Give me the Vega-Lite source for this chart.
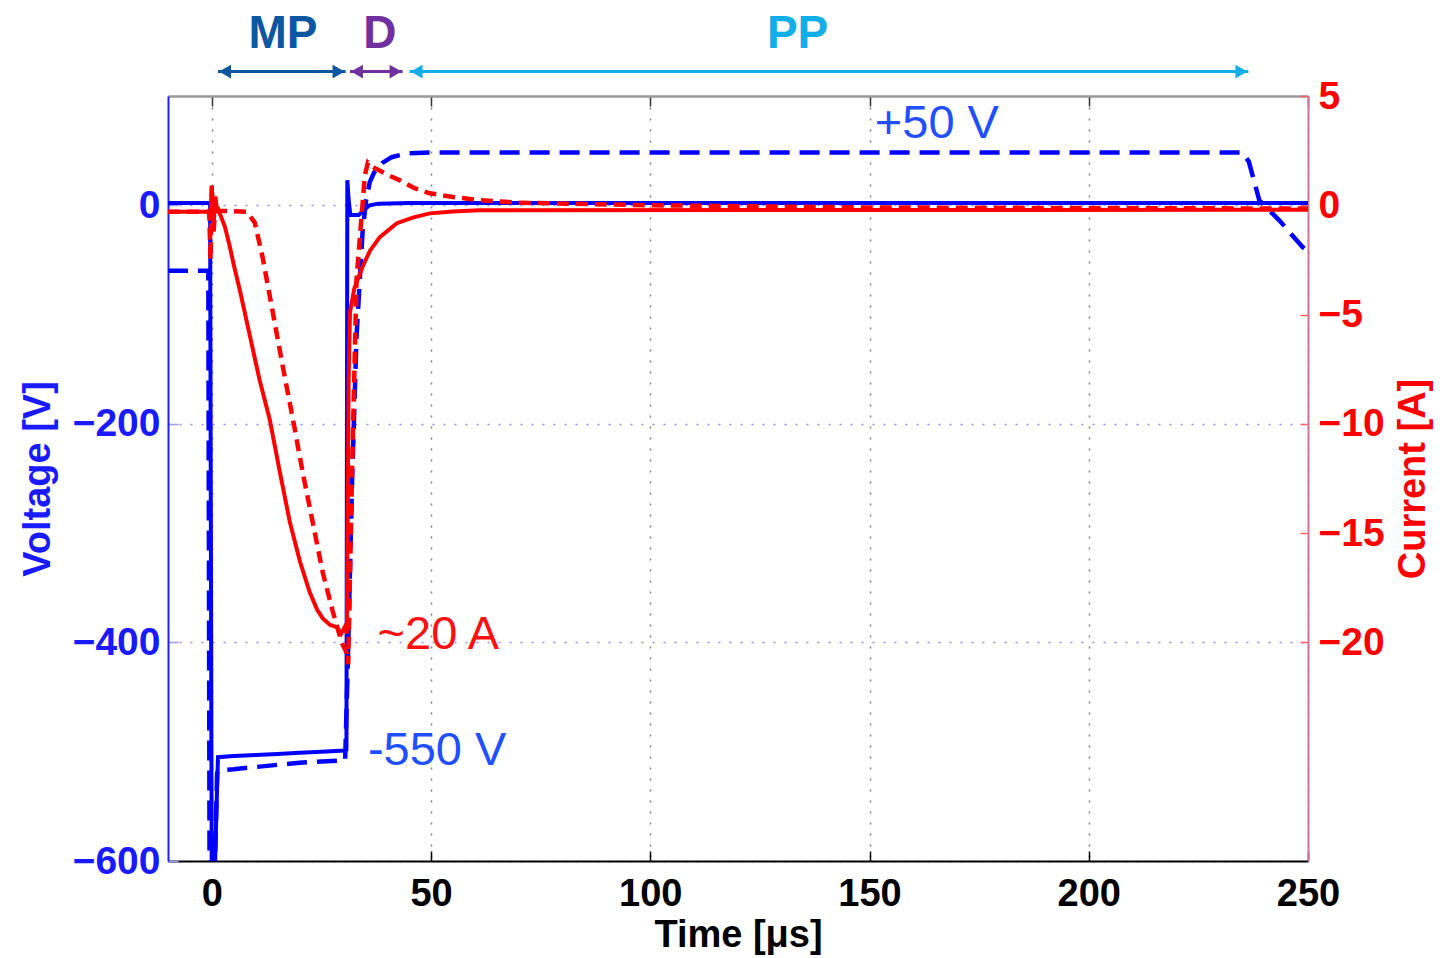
{
  "$schema": "https://vega.github.io/schema/vega-lite/v6.json",
  "width": 1140,
  "height": 765,
  "autosize": {"type": "none"},
  "padding": {"left": 168, "top": 96, "right": 144, "bottom": 97},
  "background": "white",
  "config": {"view": {"stroke": null}, "font": "Liberation Sans"},
  "datasets": {
    "volt": [
      {"s": "VS", "t": -10, "val": 2}, {"s": "VS", "t": -0.4, "val": 2}, {"s": "VS", "t": 0, "val": -660}, {"s": "VS", "t": 0.5, "val": -640}, {"s": "VS", "t": 1.0, "val": -560}, {"s": "VS", "t": 1.4, "val": -505}, {"s": "VS", "t": 5, "val": -504}, {"s": "VS", "t": 10, "val": -503}, {"s": "VS", "t": 15, "val": -502}, {"s": "VS", "t": 20, "val": -501}, {"s": "VS", "t": 25, "val": -500}, {"s": "VS", "t": 30.3, "val": -499}, {"s": "VS", "t": 30.7, "val": -498}, {"s": "VS", "t": 30.9, "val": 23}, {"s": "VS", "t": 31.2, "val": 5}, {"s": "VS", "t": 31.6, "val": -9}, {"s": "VS", "t": 33.5, "val": -9}, {"s": "VS", "t": 34.5, "val": -5}, {"s": "VS", "t": 36, "val": 0}, {"s": "VS", "t": 38, "val": 1.5}, {"s": "VS", "t": 45, "val": 2}, {"s": "VS", "t": 250, "val": 2},
      {"s": "VD", "t": -10, "val": -60}, {"s": "VD", "t": -0.8, "val": -60}, {"s": "VD", "t": -0.5, "val": -650}, {"s": "VD", "t": 0.6, "val": -620}, {"s": "VD", "t": 1.2, "val": -520}, {"s": "VD", "t": 1.5, "val": -517}, {"s": "VD", "t": 5, "val": -516}, {"s": "VD", "t": 10, "val": -514}, {"s": "VD", "t": 15, "val": -512}, {"s": "VD", "t": 20, "val": -510}, {"s": "VD", "t": 25, "val": -509}, {"s": "VD", "t": 30.4, "val": -508}, {"s": "VD", "t": 31, "val": -420}, {"s": "VD", "t": 32, "val": -250}, {"s": "VD", "t": 33, "val": -120}, {"s": "VD", "t": 34.4, "val": -23}, {"s": "VD", "t": 35.2, "val": 5}, {"s": "VD", "t": 36, "val": 21}, {"s": "VD", "t": 37, "val": 30}, {"s": "VD", "t": 39, "val": 39}, {"s": "VD", "t": 41, "val": 44}, {"s": "VD", "t": 44.5, "val": 47.5}, {"s": "VD", "t": 50, "val": 48.4}, {"s": "VD", "t": 235, "val": 48.4}, {"s": "VD", "t": 236.5, "val": 40}, {"s": "VD", "t": 238.9, "val": 4.6}, {"s": "VD", "t": 243.5, "val": -14}, {"s": "VD", "t": 248.7, "val": -38}, {"s": "VD", "t": 250, "val": -42}
    ],
    "curr": [
      {"s": "IS", "t": -10, "val": -0.3}, {"s": "IS", "t": -0.3, "val": -0.3}, {"s": "IS", "t": 0, "val": 0.8}, {"s": "IS", "t": 0.4, "val": -0.9}, {"s": "IS", "t": 0.8, "val": 0.4}, {"s": "IS", "t": 1.2, "val": -0.2}, {"s": "IS", "t": 1.8, "val": -0.37}, {"s": "IS", "t": 3, "val": -1.0}, {"s": "IS", "t": 4.1, "val": -1.9}, {"s": "IS", "t": 5.2, "val": -2.9}, {"s": "IS", "t": 6.4, "val": -3.9}, {"s": "IS", "t": 7.5, "val": -4.9}, {"s": "IS", "t": 8.7, "val": -6.0}, {"s": "IS", "t": 10.9, "val": -8.0}, {"s": "IS", "t": 13.2, "val": -9.8}, {"s": "IS", "t": 15.5, "val": -12.2}, {"s": "IS", "t": 17.8, "val": -14.5}, {"s": "IS", "t": 20.1, "val": -16.3}, {"s": "IS", "t": 22.3, "val": -17.7}, {"s": "IS", "t": 24, "val": -18.5}, {"s": "IS", "t": 25.3, "val": -18.9}, {"s": "IS", "t": 27, "val": -19.2}, {"s": "IS", "t": 28.5, "val": -19.3}, {"s": "IS", "t": 29.5, "val": -19.6}, {"s": "IS", "t": 30.3, "val": -19.3}, {"s": "IS", "t": 30.8, "val": -19.6}, {"s": "IS", "t": 31.2, "val": -8}, {"s": "IS", "t": 31.5, "val": -4.9}, {"s": "IS", "t": 32.5, "val": -3.8}, {"s": "IS", "t": 34.4, "val": -2.8}, {"s": "IS", "t": 36, "val": -2.1}, {"s": "IS", "t": 38.3, "val": -1.46}, {"s": "IS", "t": 42.2, "val": -0.82}, {"s": "IS", "t": 46, "val": -0.55}, {"s": "IS", "t": 49.7, "val": -0.37}, {"s": "IS", "t": 55, "val": -0.28}, {"s": "IS", "t": 61, "val": -0.23}, {"s": "IS", "t": 250, "val": -0.2},
      {"s": "ID", "t": -10, "val": -0.3}, {"s": "ID", "t": -0.6, "val": -0.3}, {"s": "ID", "t": -0.3, "val": -2.5}, {"s": "ID", "t": 0, "val": 0.9}, {"s": "ID", "t": 0.4, "val": -1.2}, {"s": "ID", "t": 0.9, "val": 0.2}, {"s": "ID", "t": 1.5, "val": -0.25}, {"s": "ID", "t": 8, "val": -0.3}, {"s": "ID", "t": 9.8, "val": -0.8}, {"s": "ID", "t": 11.6, "val": -2.4}, {"s": "ID", "t": 13.9, "val": -4.9}, {"s": "ID", "t": 16.2, "val": -7.4}, {"s": "ID", "t": 18.5, "val": -9.8}, {"s": "ID", "t": 20.7, "val": -12.2}, {"s": "ID", "t": 23, "val": -14.5}, {"s": "ID", "t": 25.3, "val": -16.8}, {"s": "ID", "t": 27.6, "val": -18.6}, {"s": "ID", "t": 29.6, "val": -20}, {"s": "ID", "t": 30.8, "val": -20.5}, {"s": "ID", "t": 31.1, "val": -21}, {"s": "ID", "t": 32, "val": -12}, {"s": "ID", "t": 33, "val": -3.4}, {"s": "ID", "t": 34.2, "val": -0.37}, {"s": "ID", "t": 34.9, "val": 1.37}, {"s": "ID", "t": 35.6, "val": 1.96}, {"s": "ID", "t": 37.2, "val": 1.7}, {"s": "ID", "t": 40, "val": 1.4}, {"s": "ID", "t": 42.9, "val": 1.14}, {"s": "ID", "t": 46, "val": 0.8}, {"s": "ID", "t": 49.7, "val": 0.55}, {"s": "ID", "t": 55, "val": 0.38}, {"s": "ID", "t": 61, "val": 0.23}, {"s": "ID", "t": 70, "val": 0.12}, {"s": "ID", "t": 77, "val": 0.09}, {"s": "ID", "t": 100, "val": 0}, {"s": "ID", "t": 150, "val": -0.1}, {"s": "ID", "t": 250, "val": -0.15}
    ],
    "arrows": [
      {"grp": "MP", "t": 1.4, "t2": 30.5, "val": 122.4},
      {"grp": "D", "t": 31.5, "t2": 43.5, "val": 122.4},
      {"grp": "PP", "t": 45.1, "t2": 236.4, "val": 122.4}
    ],
    "heads": [
      {"grp": "MP", "dir": "L", "t": 3.0, "val": 122.4},
      {"grp": "MP", "dir": "R", "t": 28.9, "val": 122.4},
      {"grp": "D", "dir": "L", "t": 33.1, "val": 122.4},
      {"grp": "D", "dir": "R", "t": 41.9, "val": 122.4},
      {"grp": "PP", "dir": "L", "t": 46.7, "val": 122.4},
      {"grp": "PP", "dir": "R", "t": 234.8, "val": 122.4}
    ],
    "phases": [
      {"grp": "MP", "label": "MP", "t": 16.2, "val": 144.3},
      {"grp": "D", "label": "D", "t": 38.3, "val": 144.3},
      {"grp": "PP", "label": "PP", "t": 133.6, "val": 144.3}
    ],
    "notes": [
      {"label": "+50 V", "grp": "V", "t": 151.2, "val": 61.2},
      {"label": "~20 A", "grp": "A", "t": 37.8, "val": -406.4},
      {"label": "-550 V", "grp": "V", "t": 35.6, "val": -512.3}
    ]
  },
  "layer": [
    {
      "encoding": {
        "x": {"field": "t", "type": "quantitative",
          "scale": {"domain": [-10, 250], "nice": false, "zero": false},
          "axis": {"orient": "bottom", "values": [0, 50, 100, 150, 200, 250], "title": "Time [μs]",
            "labelFont": "Liberation Sans", "labelFontSize": 38, "labelFontWeight": "bold", "labelColor": "#000000",
            "titleFont": "Liberation Sans", "titleFontSize": 38, "titleFontWeight": "bold", "titleColor": "#000000",
            "domainColor": "#000000", "domainWidth": 2, "tickColor": "#000000", "tickSize": -10, "tickWidth": 1.5,
            "labelPadding": 24, "titlePadding": 3, "labelFlush": false,
            "grid": true, "gridColor": "#808080", "gridDash": [2, 9], "gridWidth": 1.5, "gridOpacity": 1}},
        "y": {"field": "val", "type": "quantitative",
          "scale": {"domain": [-600, 100], "nice": false, "zero": false},
          "axis": {"orient": "left", "values": [-600, -400, -200, 0], "title": "Voltage [V]",
            "labelFont": "Liberation Sans", "labelFontSize": 39, "labelFontWeight": "bold", "labelColor": "#1a1aff",
            "titleFont": "Liberation Sans", "titleFontSize": 38, "titleFontWeight": "bold", "titleColor": "#1a1aff",
            "domainColor": "#2020ff", "domainWidth": 2, "tickColor": "#9a9aff", "tickSize": -10, "tickWidth": 1.5,
            "labelPadding": 18, "titlePadding": 15, "labelFlush": false,
            "grid": true, "gridColor": "#8c8cff", "gridDash": [2, 9], "gridWidth": 1.5, "gridOpacity": 1}},
        "color": {"field": "grp", "type": "nominal",
          "scale": {"domain": ["MP", "D", "PP", "V", "A"], "range": ["#0d56a0", "#7030a0", "#12aee8", "#1f4fff", "#ff1010"]},
          "legend": null}
      },
      "layer": [
        {"data": {"name": "volt"}, "transform": [{"filter": "datum.s === 'VS'"}],
          "mark": {"type": "line", "color": "#0000ff", "strokeWidth": 4, "clip": true},
          "encoding": {"color": {"value": "#0000ff"}}},
        {"data": {"name": "volt"}, "transform": [{"filter": "datum.s === 'VD'"}],
          "mark": {"type": "line", "color": "#0000ff", "strokeWidth": 4.5, "strokeDash": [20, 10], "clip": true},
          "encoding": {"color": {"value": "#0000ff"}}},
        {"data": {"name": "arrows"},
          "mark": {"type": "rule", "strokeWidth": 3},
          "encoding": {"x2": {"field": "t2"}}},
        {"data": {"name": "heads"},
          "mark": {"type": "point", "filled": true, "size": 190, "opacity": 1},
          "encoding": {
            "shape": {"field": "dir", "type": "nominal", "scale": {"domain": ["L", "R"], "range": ["triangle-left", "triangle-right"]}, "legend": null}}},
        {"data": {"name": "phases"},
          "mark": {"type": "text", "font": "Liberation Sans", "fontSize": 46, "fontWeight": "bold", "align": "center", "baseline": "alphabetic"},
          "encoding": {"text": {"field": "label"}}},
        {"data": {"name": "notes"},
          "mark": {"type": "text", "font": "Liberation Sans", "fontSize": 47, "align": "left", "baseline": "alphabetic"},
          "encoding": {"text": {"field": "label"}}}
      ]
    },
    {
      "encoding": {
        "x": {"field": "t", "type": "quantitative",
          "scale": {"domain": [-10, 250], "nice": false, "zero": false},
          "axis": {"orient": "top", "values": [0, 50, 100, 150, 200, 250], "title": null, "labels": false,
            "domainColor": "#9a9a9a", "domainWidth": 2.5, "tickColor": "#333333", "tickSize": -10, "tickWidth": 1.5, "grid": false}},
        "y": {"field": "val", "type": "quantitative",
          "scale": {"domain": [-30, 5], "nice": false, "zero": false},
          "axis": {"orient": "right", "values": [5, 0, -5, -10, -15, -20], "title": "Current [A]",
            "labelFont": "Liberation Sans", "labelFontSize": 39, "labelFontWeight": "bold", "labelColor": "#ff0000",
            "titleFont": "Liberation Sans", "titleFontSize": 38, "titleFontWeight": "bold", "titleColor": "#ff0000",
            "titleAngle": 270, "titleBaseline": "top",
            "domainColor": "#cc7799", "domainWidth": 2, "tickColor": "#ff6060", "tickSize": -8, "tickWidth": 1.5,
            "labelPadding": 18, "titlePadding": 10, "labelFlush": false, "grid": false}}
      },
      "layer": [
        {"data": {"name": "curr"}, "transform": [{"filter": "datum.s === 'IS'"}],
          "mark": {"type": "line", "color": "#ff0000", "strokeWidth": 4, "clip": true}},
        {"data": {"name": "curr"}, "transform": [{"filter": "datum.s === 'ID'"}],
          "mark": {"type": "line", "color": "#ff0000", "strokeWidth": 4.5, "strokeDash": [12, 7], "clip": true}}
      ]
    }
  ],
  "resolve": {"scale": {"y": "independent"}, "axis": {"x": "independent"}}
}
